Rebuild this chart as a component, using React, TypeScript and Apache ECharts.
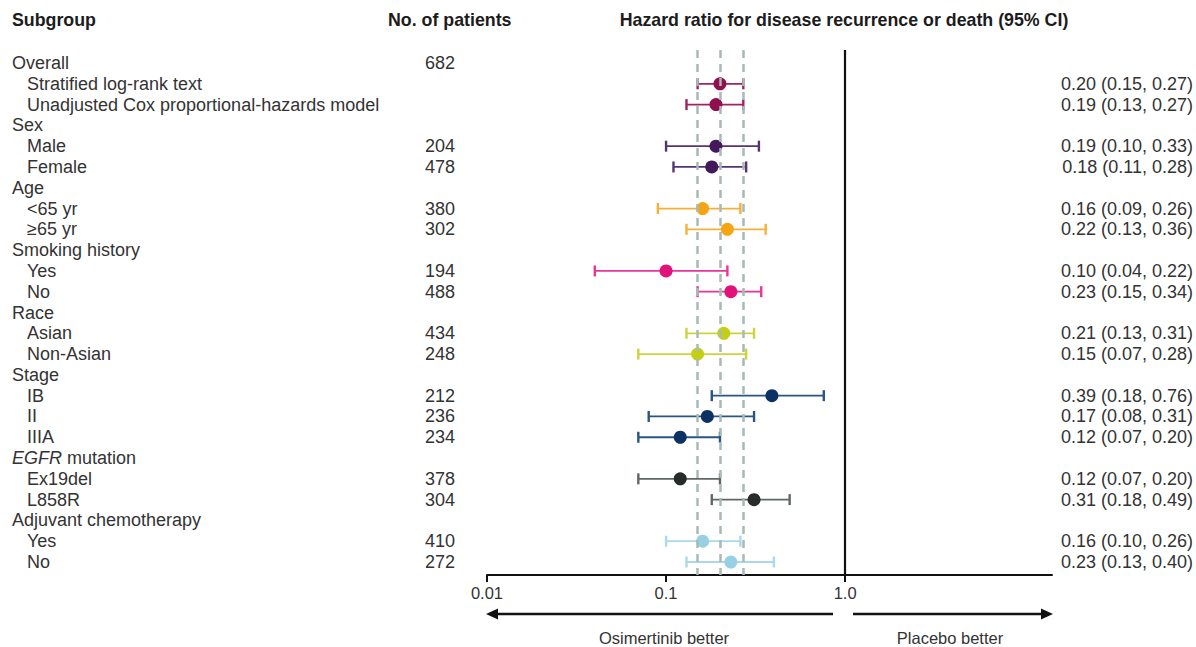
import React, { useEffect, useRef } from "react";
import * as echarts from "echarts";

const rowLabels = [
  "Overall", "Stratified log-rank text", "Unadjusted Cox proportional-hazards model",
  "Sex", "Male", "Female",
  "Age", "<65 yr", "≥65 yr",
  "Smoking history", "Yes", "No",
  "Race", "Asian", "Non-Asian",
  "Stage", "IB", "II", "IIIA",
  "EGFR mutation", "Ex19del", "L858R",
  "Adjuvant chemotherapy", "Yes", "No",
];
const rowLevel = [0, 1, 1, 0, 1, 1, 0, 1, 1, 0, 1, 1, 0, 1, 1, 0, 1, 1, 1, 0, 1, 1, 0, 1, 1];
const rowGroup = [0, 0, 0, 1, 1, 1, 2, 2, 2, 3, 3, 3, 4, 4, 4, 5, 5, 5, 5, 6, 6, 6, 7, 7, 7];
const patients = ["682", "", "", "", "204", "478", "", "380", "302", "", "194", "488", "", "434", "248", "", "212", "236", "234", "", "378", "304", "", "410", "272"];
const hr = [null, 0.20, 0.19, null, 0.19, 0.18, null, 0.16, 0.22, null, 0.10, 0.23, null, 0.21, 0.15, null, 0.39, 0.17, 0.12, null, 0.12, 0.31, null, 0.16, 0.23];
const ciLow = [null, 0.15, 0.13, null, 0.10, 0.11, null, 0.09, 0.13, null, 0.04, 0.15, null, 0.13, 0.07, null, 0.18, 0.08, 0.07, null, 0.07, 0.18, null, 0.10, 0.13];
const ciHigh = [null, 0.27, 0.27, null, 0.33, 0.28, null, 0.26, 0.36, null, 0.22, 0.34, null, 0.31, 0.28, null, 0.76, 0.31, 0.20, null, 0.20, 0.49, null, 0.26, 0.40];
const overallCI = [0.15, 0.20, 0.27];
const nullLine = 1;
const xTickValues = [0.01, 0.1, 1];
const xTickLabels = ["0.01", "0.1", "1.0"];

const dotPalette = ["#8f0f4f", "#43195c", "#f5a514", "#e3117a", "#c4cf14", "#0b3263", "#272c2b", "#97d0e4"];
const linePalette = ["#9e2560", "#573370", "#f6b03a", "#e8359a", "#cbd43a", "#2a5482", "#5f6765", "#a9d9ea"];

const FONT = "'Liberation Sans', Arial, sans-serif";

export default function App() {
  const ref = useRef<HTMLDivElement>(null);
  useEffect(() => {
    if (!ref.current) return;
    const chart = echarts.init(ref.current, undefined, { renderer: "svg" });
    const rowIdx = rowLabels.map((_, i) => i);
    const ciData: any[] = [];
    const ciColors: string[] = [];
    const dotData: any[] = [];
    rowLabels.forEach((_, i) => {
      if (hr[i] == null) return;
      ciData.push([ciLow[i], ciHigh[i], i]);
      ciColors.push(linePalette[rowGroup[i]]);
      dotData.push({ value: [hr[i], i], itemStyle: { color: dotPalette[rowGroup[i]], opacity: 1 } });
    });
    const hrText = (i: number) =>
      hr[i] == null ? "" : `${(hr[i] as number).toFixed(2)} (${(ciLow[i] as number).toFixed(2)}, ${(ciHigh[i] as number).toFixed(2)})`;
    const baseY = {
      type: "value",
      inverse: true,
      min: -0.625,
      max: 24.625,
      axisLine: { show: false },
      axisTick: { show: false },
      splitLine: { show: false },
    };
    const subgroupFmt = (v: number) => {
      const i = Math.round(v);
      const lab = rowLabels[i];
      if (lab == null) return "";
      if (rowLevel[i] === 0) {
        if (lab.startsWith("EGFR ")) return `{hi|EGFR}{h|${lab.slice(4)}}`;
        return `{h|${lab}}`;
      }
      return `{c|${lab}}`;
    };
    const option: any = {
      animation: false,
      grid: { left: 487, right: 144, top: 50, bottom: 72 },
      xAxis: {
        type: "log",
        logBase: 10,
        min: 0.01,
        max: 14.3,
        axisLine: { onZero: false, lineStyle: { color: "#111", width: 2 } },
        axisTick: { customValues: xTickValues, length: 7, lineStyle: { color: "#111", width: 2 } },
        axisLabel: {
          customValues: xTickValues,
          margin: 9,
          fontSize: 16.5,
          color: "#333",
          fontFamily: FONT,
          formatter: (v: number) => {
            let best = 0;
            xTickValues.forEach((t, k) => {
              if (Math.abs(Math.log10(t) - Math.log10(v)) < Math.abs(Math.log10(xTickValues[best]) - Math.log10(v))) best = k;
            });
            return xTickLabels[best];
          },
        },
        splitLine: { show: false },
        minorTick: { show: false },
      },
      yAxis: [
        {
          ...baseY,
          position: "left",
          axisLabel: {
            customValues: rowIdx,
            align: "left",
            margin: 475,
            formatter: subgroupFmt,
            rich: {
              h: { fontSize: 18, color: "#333", fontFamily: FONT },
              hi: { fontSize: 18, color: "#333", fontFamily: FONT, fontStyle: "italic" },
              c: { fontSize: 18, color: "#333", fontFamily: FONT, padding: [0, 0, 0, 15] },
            },
          },
        },
        {
          ...baseY,
          position: "left",
          axisLabel: {
            customValues: rowIdx,
            align: "left",
            margin: 62,
            fontSize: 18,
            color: "#333",
            fontFamily: FONT,
            formatter: (v: number) => patients[Math.round(v)] ?? "",
          },
        },
        {
          ...baseY,
          position: "right",
          axisLabel: {
            customValues: rowIdx,
            align: "right",
            margin: 141,
            fontSize: 18,
            color: "#333",
            fontFamily: FONT,
            formatter: (v: number) => hrText(Math.round(v)),
          },
        },
      ],
      series: [
        {
          type: "line",
          data: [],
          z: 1,
          silent: true,
          markLine: {
            silent: true,
            symbol: ["none", "none"],
            label: { show: false },
            data: [
              ...overallCI.map((x) => ({ xAxis: x, lineStyle: { color: "#a8bab7", width: 2.5, type: [8, 6] } })),
              { xAxis: nullLine, lineStyle: { color: "#111", width: 2.2, type: "solid" } },
            ],
          },
        },
        {
          type: "custom",
          z: 3,
          data: ciData,
          encode: { x: [0, 1], y: 2 },
          renderItem: (params: any, api: any) => {
            const y = api.value(2);
            const p1 = api.coord([api.value(0), y]);
            const p2 = api.coord([api.value(1), y]);
            const c = ciColors[params.dataIndex];
            const st = { stroke: c, lineWidth: 1.8 };
            const capSt = { stroke: c, lineWidth: 2.4 };
            return {
              type: "group",
              children: [
                { type: "line", shape: { x1: p1[0], y1: p1[1], x2: p2[0], y2: p2[1] }, style: st },
                { type: "line", shape: { x1: p1[0], y1: p1[1] - 5.5, x2: p1[0], y2: p1[1] + 5.5 }, style: capSt },
                { type: "line", shape: { x1: p2[0], y1: p2[1] - 5.5, x2: p2[0], y2: p2[1] + 5.5 }, style: capSt },
              ],
            };
          },
        },
        {
          type: "scatter",
          z: 4,
          symbol: "circle",
          symbolSize: 13,
          itemStyle: { opacity: 1 },
          data: dotData,
        },
      ],
      graphic: [
        { type: "text", x: 12, y: 20, style: { text: "Subgroup", font: `bold 17.8px ${FONT}`, fill: "#1c1c1c", verticalAlign: "middle" } },
        { type: "text", x: 388, y: 20, style: { text: "No. of patients", font: `bold 17.8px ${FONT}`, fill: "#1c1c1c", verticalAlign: "middle" } },
        { type: "text", x: 844, y: 20, style: { text: "Hazard ratio for disease recurrence or death (95% CI)", font: `bold 17.8px ${FONT}`, fill: "#1c1c1c", verticalAlign: "middle", align: "center" } },
        { type: "line", shape: { x1: 494, y1: 614, x2: 833, y2: 614 }, style: { stroke: "#111", lineWidth: 2.5 } },
        { type: "polygon", shape: { points: [[486, 614], [498, 608.5], [498, 619.5]] }, style: { fill: "#111" } },
        { type: "line", shape: { x1: 853, y1: 614, x2: 1045, y2: 614 }, style: { stroke: "#111", lineWidth: 2.5 } },
        { type: "polygon", shape: { points: [[1053, 614], [1041, 608.5], [1041, 619.5]] }, style: { fill: "#111" } },
        { type: "text", x: 664, y: 638, style: { text: "Osimertinib better", font: `16.5px ${FONT}`, fill: "#333", verticalAlign: "middle", align: "center" } },
        { type: "text", x: 950, y: 638, style: { text: "Placebo better", font: `16.5px ${FONT}`, fill: "#333", verticalAlign: "middle", align: "center" } },
      ],
    };
    chart.setOption(option);
    return () => chart.dispose();
  }, []);
  return (
    <div
      ref={ref}
      style={{ position: "fixed", left: 0, top: 0, width: 1196, height: 647, background: "#fff" }}
    />
  );
}
